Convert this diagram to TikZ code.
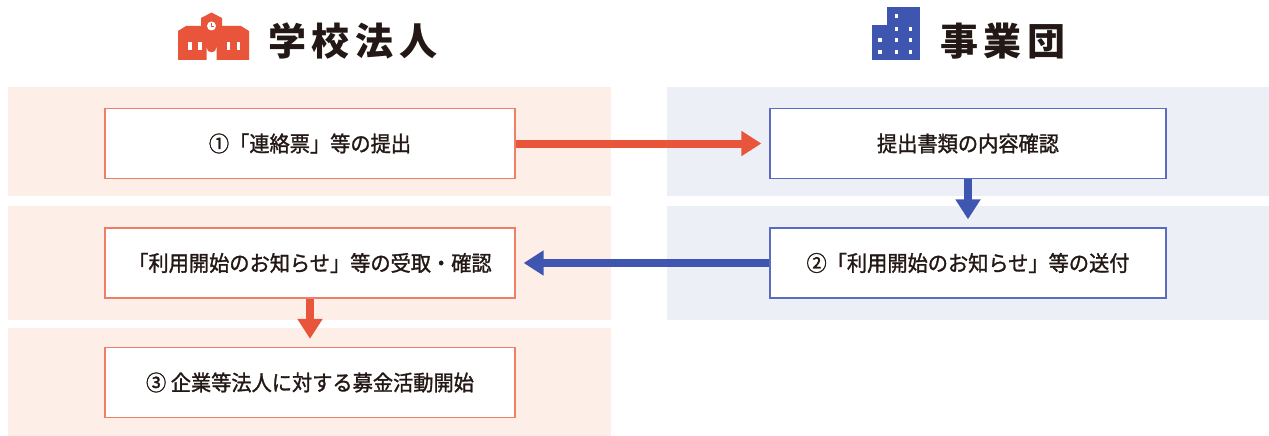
\documentclass[tikz,border=0pt]{standalone}
\usepackage{fontspec}
\newfontfamily\jp{Noto Sans CJK JP}
\newfontfamily\jpm{Noto Sans CJK JP}[FakeBold=1.3,FakeStretch=0.94]
\usetikzlibrary{arrows.meta}
\definecolor{red1}{HTML}{E8553A}
\definecolor{redb}{HTML}{EE7F66}
\definecolor{pink}{HTML}{FDEEE8}
\definecolor{blue1}{HTML}{3F56B0}
\definecolor{blueb}{HTML}{5A6CC2}
\definecolor{grayb}{HTML}{EDEFF7}
\definecolor{ink}{HTML}{231815}
\tikzset{
  boxtext/.style={font=\jpm\fontsize{21.5}{24}\selectfont, text=ink},
  lbox/.style={draw=redb, line width=1.3pt, fill=white, minimum width=410pt, minimum height=70pt, inner sep=0pt, boxtext},
  rbox/.style={draw=blueb, line width=1.3pt, fill=white, minimum width=396pt, minimum height=70pt, inner sep=0pt, boxtext},
  arr/.style={line width=8pt, -{Triangle[length=20pt,width=24pt]}},
  head/.style={anchor=west, inner sep=0pt, text=ink, font=\jp\bfseries\fontsize{38}{40}\selectfont\addfontfeature{LetterSpace=15}}
}
\begin{document}
\begin{tikzpicture}[x=1pt,y=-1pt]
\useasboundingbox (0,0) rectangle (1269,436);
\fill[white] (0,0) rectangle (1269,436);
% panels
\fill[pink] (8,87) rectangle (611,196);
\fill[pink] (8,206) rectangle (611,320);
\fill[pink] (8,328) rectangle (611,436);
\fill[grayb] (667,87) rectangle (1269,196);
\fill[grayb] (667,206) rectangle (1269,320);
% school icon
\fill[red1] (178,31) -- (186,26) -- (201,26) -- (201,18) -- (211.5,12.5) -- (222,18) -- (222,26) -- (241,26) -- (249,31) -- (249,60) -- (178,60) -- cycle;
\fill[white] (211.5,26) circle (4.5);
\draw[red1, line width=0.8pt] (211.5,23.5) -- (211.5,26) -- (213.5,26);
\fill[white] (188.3,42) rectangle (191.7,50);
\fill[white] (198.3,42) rectangle (201.7,50);
\fill[white] (226.7,42) rectangle (230,50);
\fill[white] (236.7,42) rectangle (240,50);
\fill[white] (206.5,60) -- (206.5,47.5) arc[start angle=180, end angle=0, radius=5] -- (216.5,60) -- cycle;
% building icon
\fill[blue1] (871.7,25) rectangle (887,60);
\fill[blue1] (886.5,6.7) rectangle (920,60);
\foreach \p in {(880,40),(880,52),(896.7,16),(896.7,29),(896.7,40),(896.7,52),(910.7,29),(910.7,40),(910.7,52)}
  \fill[white] \p ++(-1.7,-1.7) rectangle ++(3.4,3.4);
% headers
\node[head] (h1) at (268,41) {学校法人};
\node[head] (h2) at (940,41) {事業団};
% boxes
\node[lbox] (a1) at (310,143.5) {①「連絡票」等の提出};
\node[lbox] (a2) at (310,263) {「利用開始のお知らせ」等の受取・確認};
\node[lbox] (a3) at (310,382.5) {③ 企業等法人に対する募金活動開始};
\node[rbox] (b1) at (968,143.5) {提出書類の内容確認};
\node[rbox] (b2) at (968,263) {②「利用開始のお知らせ」等の送付};
% arrows
\draw[arr, red1, shorten >=8pt] (a1.east) -- (b1.west);
\draw[arr, blue1, shorten >=8pt] (b1.south) -- (b2.north);
\draw[arr, blue1, shorten >=8pt] (b2.west) -- (a2.east);
\draw[arr, red1, shorten >=8pt] (a2.south) -- (a3.north);
\end{tikzpicture}
\end{document}
